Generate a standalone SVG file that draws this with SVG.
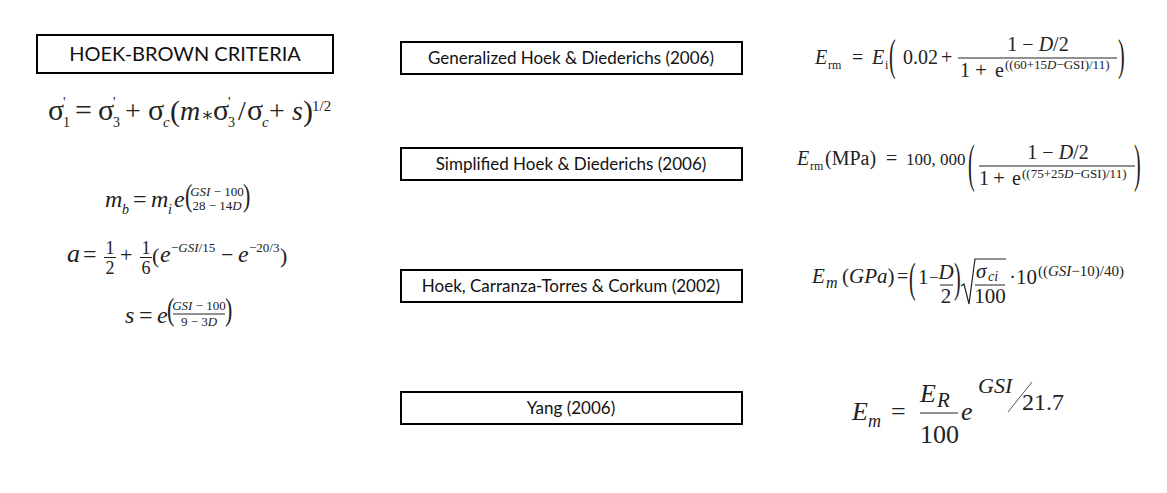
<svg xmlns="http://www.w3.org/2000/svg" width="1167" height="493" viewBox="0 0 1167 493">
<style>
.box{fill:#fff;stroke:#000;stroke-width:2}
.lbl{font-family:Lato,"Liberation Sans",sans-serif;font-size:17px;fill:#111;text-anchor:middle}
.m{font-family:"Liberation Serif","DejaVu Serif",serif;fill:#222}
.i{font-style:italic}
.fl{stroke:#222;stroke-width:1}
.mid{text-anchor:middle}
.bp{font-size:20px;font-weight:normal}
</style>
<rect width="1167" height="493" fill="#fff"/>
<g id="connectors"/>

<g id="node-hoek-brown">
<rect class="box" x="37" y="35" width="296" height="38"/>
<text class="lbl" x="185" y="61" style="font-size:20px">HOEK-BROWN CRITERIA</text>
</g>

<g id="formula-hb" class="m" font-size="28">
<text x="48" y="120" font-size="30">σ</text><text x="63" y="107" font-size="14">'</text><text x="63" y="127" font-size="14">1</text>
<text x="75" y="120" font-size="30">=</text>
<text x="98" y="120" font-size="30">σ</text><text x="113" y="107" font-size="14">'</text><text x="113" y="127" font-size="14">3</text>
<text x="125" y="120">+</text>
<text x="148" y="120" font-size="30">σ</text><text x="163" y="127" font-size="15" class="i">c</text>
<text x="170" y="121" font-size="30">(</text>
<text x="180" y="120" class="i">m</text>
<text x="201" y="121" font-size="19">∗</text>
<text x="213" y="120" font-size="30">σ</text><text x="228" y="107" font-size="14">'</text><text x="228" y="127" font-size="14">3</text>
<text x="238" y="120">/</text>
<text x="247" y="120" font-size="30">σ</text><text x="262" y="127" font-size="15" class="i">c</text>
<text x="269" y="120">+</text>
<text x="292" y="120" class="i">s</text>
<text x="303" y="121" font-size="30">)</text>
<text x="312" y="111" font-size="15">1/2</text>
</g>

<g id="formula-mb" class="m" font-size="24">
<text x="105" y="207" class="i">m</text><text x="122" y="214" font-size="14" class="i">b</text>
<text x="133" y="207">=</text>
<text x="151" y="207" class="i">m</text><text x="168" y="214" font-size="14" class="i">i</text>
<text x="174" y="207" class="i">e</text>
<text transform="translate(185,206) scale(1,1.4)" font-size="22">(</text>
<text x="217" y="196" font-size="13" class="mid"><tspan class="i">GSI</tspan> − 100</text>
<text x="217" y="210" font-size="13" class="mid">28 − 14<tspan class="i">D</tspan></text>
<text transform="translate(243,206) scale(1,1.4)" font-size="22">)</text>
</g>

<g id="formula-a" class="m" font-size="24">
<text x="67" y="262" font-size="26" class="i">a</text>
<text x="83" y="262">=</text>
<text x="110" y="254" font-size="18" class="mid">1</text>
<line class="fl" x1="104" y1="257.5" x2="116" y2="257.5"/>
<text x="110" y="274" font-size="18" class="mid">2</text>
<text x="120" y="262" font-size="22">+</text>
<text x="146" y="254" font-size="18" class="mid">1</text>
<line class="fl" x1="140" y1="257.5" x2="152" y2="257.5"/>
<text x="146" y="274" font-size="18" class="mid">6</text>
<text x="152" y="263" font-size="22">(</text>
<text x="160" y="262" class="i">e</text>
<text x="171" y="252" font-size="13">−<tspan class="i">GSI</tspan>/15</text>
<text x="221" y="262" font-size="22">−</text>
<text x="238" y="262" class="i">e</text>
<text x="249" y="252" font-size="13">−20/3</text>
<text x="280" y="263" font-size="22">)</text>
</g>

<g id="formula-s" class="m" font-size="24">
<text x="125" y="323" class="i">s</text>
<text x="139" y="323">=</text>
<text x="157" y="323" class="i">e</text>
<text transform="translate(167,320) scale(1,1.4)" font-size="22">(</text>
<text x="199" y="310" font-size="13" class="mid"><tspan class="i">GSI</tspan> − 100</text>
<line class="fl" x1="173" y1="314" x2="225" y2="314"/>
<text x="199" y="326" font-size="13" class="mid">9 − 3<tspan class="i">D</tspan></text>
<text transform="translate(225,320) scale(1,1.4)" font-size="22">)</text>
</g>

<g id="node-generalized">
<rect class="box" x="401" y="42" width="341" height="32"/>
<text class="lbl" x="571" y="64">Generalized Hoek &amp; Diederichs (2006)</text>
</g>
<g id="node-simplified">
<rect class="box" x="401" y="148" width="341" height="32"/>
<text class="lbl" x="571" y="170">Simplified Hoek &amp; Diederichs (2006)</text>
</g>
<g id="node-hcc">
<rect class="box" x="401" y="270" width="341" height="32"/>
<text class="lbl" x="571" y="292">Hoek, Carranza-Torres &amp; Corkum (2002)</text>
</g>
<g id="node-yang">
<rect class="box" x="401" y="392" width="341" height="32"/>
<text class="lbl" x="571" y="414">Yang (2006)</text>
</g>

<g id="formula-generalized" class="m" font-size="20">
<text x="815" y="64" class="i">E</text><text x="828" y="69" font-size="12">rm</text>
<text x="852" y="64">=</text>
<text x="872" y="64" class="i">E</text><text x="885" y="69" font-size="12">i</text>
<text class="bp" transform="translate(889,70) scale(1,2.2)">(</text>
<text x="903" y="64">0.02</text>
<text x="941" y="64">+</text>
<text x="1038" y="51" class="mid">1 − <tspan class="i">D</tspan>/2</text>
<line class="fl" x1="958" y1="58" x2="1117" y2="58"/>
<text x="960" y="77">1</text>
<text x="975" y="77" font-size="21">+</text>
<text x="995" y="77">e</text>
<text x="1005" y="69" font-size="13">((60+15<tspan class="i">D</tspan>−GSI)/11)</text>
<text class="bp" transform="translate(1118,70) scale(1,2.2)">)</text>
</g>

<g id="formula-simplified" class="m" font-size="20">
<text x="797" y="165" class="i">E</text><text x="810" y="170" font-size="12">rm</text>
<text x="825" y="165">(MPa)</text>
<text x="886" y="165">=</text>
<text x="906" y="165" font-size="17">100, 000</text>
<text class="bp" transform="translate(968,181) scale(1,2.6)">(</text>
<text x="1058" y="159" class="mid">1 − <tspan class="i">D</tspan>/2</text>
<line class="fl" x1="979" y1="166" x2="1135" y2="166"/>
<text x="979" y="185">1</text>
<text x="993" y="185" font-size="21">+</text>
<text x="1012" y="185">e</text>
<text x="1022" y="178" font-size="13">((75+25<tspan class="i">D</tspan>−GSI)/11)</text>
<text class="bp" transform="translate(1134,181) scale(1,2.6)">)</text>
</g>

<g id="formula-hcc" class="m" font-size="21">
<text x="812" y="283" class="i">E</text><text x="826" y="288" font-size="16" class="i">m</text>
<text x="842" y="283">(<tspan class="i">GPa</tspan>)</text>
<text x="897" y="283" font-size="20">=</text>
<text class="bp" transform="translate(909,292) scale(1,2.1)">(</text>
<text x="918" y="284">1</text>
<text x="929" y="283" font-size="17">−</text>
<text x="946" y="279" class="mid i">D</text>
<line class="fl" x1="940" y1="285" x2="953" y2="285"/>
<text x="946" y="303" class="mid">2</text>
<text class="bp" transform="translate(954,292) scale(1,2.1)">)</text>
<path d="M961,286 L964,284 L969,304 L975,259 L1006,259" fill="none" stroke="#222" stroke-width="1.2"/>
<text x="976" y="278" class="i">σ</text><text x="988" y="281" font-size="14" class="i">ci</text>
<line class="fl" x1="975" y1="285" x2="1005" y2="285"/>
<text x="990" y="303" class="mid">100</text>
<text x="1009" y="284">·10</text>
<text x="1038" y="276" font-size="15">((<tspan class="i">GSI</tspan>−10)/40)</text>
</g>

<g id="formula-yang" class="m" font-size="26">
<text x="852" y="420" class="i">E</text><text x="868" y="427" font-size="18" class="i">m</text>
<text x="891" y="420">=</text>
<text x="920" y="402" class="i">E</text><text x="937" y="407" font-size="21" class="i">R</text>
<line class="fl" x1="920" y1="413" x2="958" y2="413"/>
<text x="920" y="443">100</text>
<text x="961" y="420" class="i">e</text>
<text x="978" y="393" font-size="22" class="i">GSI</text>
<line x1="1032" y1="382" x2="1008" y2="412" stroke="#555" stroke-width="1"/>
<text x="1022" y="410" font-size="24">21.7</text>
</g>
</svg>
